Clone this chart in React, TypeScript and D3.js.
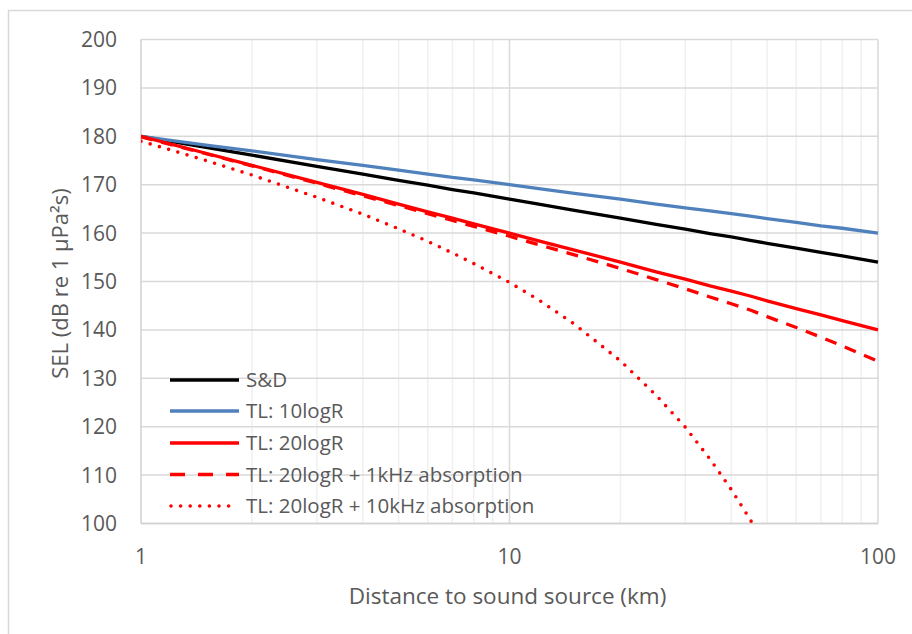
import React from "react";
import * as d3 from "d3";

// Distances (km) at which values were read
const distances = [1, 1.5, 2, 3, 4, 5, 6, 7, 8, 10, 12, 15, 20, 25, 30, 35, 40, 45, 50, 60, 70, 80, 100];

const sd = [180, 177.7, 176.1, 173.8, 172.2, 170.9, 169.9, 169.0, 168.3, 167, 166.0, 164.7, 163.1, 161.8, 160.8, 159.9, 159.2, 158.5, 157.9, 156.9, 156.0, 155.3, 154];
const tl10 = [180, 178.2, 177, 175.2, 174, 173, 172.2, 171.5, 171, 170, 169.2, 168.2, 167, 166, 165.2, 164.6, 164, 163.5, 163, 162.2, 161.5, 161, 160];
const tl20 = [180, 176.5, 174, 170.5, 168, 166, 164.4, 163.1, 161.9, 160, 158.4, 156.5, 154, 152, 150.5, 149.1, 148, 147, 146, 144.4, 143.1, 141.9, 140];
const tl20k1 = [179.9, 176.4, 173.9, 170.3, 167.7, 165.7, 164.0, 162.6, 161.4, 159.35, 157.6, 155.5, 152.7, 150.4, 148.5, 146.8, 145.4, 144.1, 142.75, 140.5, 138.5, 136.7, 133.5];
const tl20k10 = [179.0, 175.0, 172.0, 167.4, 163.9, 160.9, 158.3, 155.9, 153.7, 149.8, 146.2, 141.2, 133.6, 126.5, 119.9, 113.3, 107.0, 100.8, 94.8, 82.4, 70.0, 57.8, 33.0];

const seriesNames = ["S&D", "TL: 10logR", "TL: 20logR", "TL: 20logR + 1kHz absorption", "TL: 20logR + 10kHz absorption"];
const seriesValues = [sd, tl10, tl20, tl20k1, tl20k10];
const seriesColors = ["#000000", "#4f81bd", "#ff0000", "#ff0000", "#ff0000"];
const seriesDash = ["", "", "", "12 9", "0 9.6"];

const yTicks = [100, 110, 120, 130, 140, 150, 160, 170, 180, 190, 200];
const xTickLabels = [1, 10, 100];
const minorX = [2, 3, 4, 5, 6, 7, 8, 9, 20, 30, 40, 50, 60, 70, 80, 90];

const W = 912;
const H = 634;
const L = 141, R = 878, T = 39.5, B = 523.5;
const FONT = "'Open Sans', 'Liberation Sans', sans-serif";
const TXT = "#595959";

export default function App() {
  const x = d3.scaleLog().domain([1, 100]).range([L, R]);
  const y = d3.scaleLinear().domain([100, 200]).range([B, T]);
  const line = d3
    .line<[number, number]>()
    .x((d) => x(d[0]))
    .y((d) => y(d[1]));

  const legendY = [380, 411, 443, 474.5, 506];

  return (
    <svg
      width={W}
      height={H}
      style={{ position: "absolute", left: 0, top: 0, background: "#fff" }}
      fontFamily={FONT}
    >
      <rect x={0} y={0} width={W} height={H} fill="#fff" />
      <rect x={8.5} y={10.5} width={W + 20} height={H + 20} fill="none" stroke="#d9d9d9" strokeWidth={1.5} />
      <defs>
        <clipPath id="plotclip">
          <rect x={L} y={T - 2} width={R - L + 2} height={B - T + 2} />
        </clipPath>
      </defs>
      {minorX.map((v) => (
        <line key={"mx" + v} x1={x(v)} x2={x(v)} y1={T} y2={B} stroke="#f0f0f0" strokeWidth={1.5} />
      ))}
      {yTicks.map((v) => (
        <line key={"gy" + v} x1={L} x2={R} y1={y(v)} y2={y(v)} stroke="#d9d9d9" strokeWidth={1.5} />
      ))}
      {[10, 100].map((v) => (
        <line key={"gx" + v} x1={x(v)} x2={x(v)} y1={T} y2={B} stroke="#d9d9d9" strokeWidth={1.5} />
      ))}
      <line x1={L} x2={L} y1={T} y2={B} stroke="#d0d0d0" strokeWidth={1.5} />
      <line x1={L} x2={R} y1={B} y2={B} stroke="#d0d0d0" strokeWidth={1.5} />

      {yTicks.map((v) => (
        <text key={"ty" + v} x={117} y={y(v)} dy="0.36em" textAnchor="end" fontSize={21} fill={TXT}>
          {v}
        </text>
      ))}
      {xTickLabels.map((v) => (
        <text key={"tx" + v} x={x(v)} y={564} textAnchor="middle" fontSize={21} fill={TXT}>
          {v}
        </text>
      ))}
      <text x={(L + R) / 2 - 2} y={604} textAnchor="middle" fontSize={22.5} fill={TXT}>
        Distance to sound source (km)
      </text>
      <text
        transform={`translate(68, ${(T + B) / 2 + 2}) rotate(-90)`}
        textAnchor="middle"
        fontSize={22}
        fill={TXT}
      >
        SEL (dB re 1 µPa²s)
      </text>

      <g clipPath="url(#plotclip)">
        {seriesValues.map((vals, i) => (
          <path
            key={"s" + i}
            d={line(distances.map((d, j) => [d, vals[j]] as [number, number])) || ""}
            fill="none"
            stroke={seriesColors[i]}
            strokeWidth={i === 4 ? 3.6 : 3.3}
            strokeDasharray={seriesDash[i] || undefined}
            strokeLinecap={i === 4 ? "round" : "butt"}
            strokeLinejoin="round"
          />
        ))}
      </g>

      {seriesNames.map((name, i) => (
        <g key={"lg" + i}>
          <line
            x1={i === 4 ? 171 : 170}
            x2={i === 4 ? 232 : 239}
            y1={legendY[i]}
            y2={legendY[i]}
            stroke={seriesColors[i]}
            strokeWidth={i === 4 ? 3.6 : 3.3}
            strokeDasharray={i === 3 ? "15 13" : seriesDash[i] || undefined}
            strokeLinecap={i === 4 ? "round" : "butt"}
          />
          <text x={246} y={legendY[i]} dy="0.36em" fontSize={20.5} fill={TXT}>
            {name}
          </text>
        </g>
      ))}
    </svg>
  );
}
